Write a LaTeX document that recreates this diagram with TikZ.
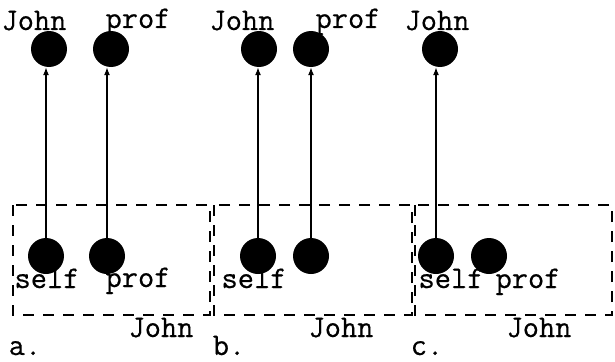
\documentclass[tikz,border=0pt]{standalone}
\usepackage{fontspec}
\newfontfamily\heavytt{Latin Modern Mono}[FakeBold=0.5]
\usetikzlibrary{arrows.meta}
\begin{document}
\begin{tikzpicture}[x=1pt,y=-1pt,
  dot/.style={circle,fill=black,draw=none,minimum size=36pt,inner sep=0pt},
  lbl/.style={font=\fontsize{31.5}{34}\selectfont\heavytt,inner sep=0pt,anchor=base},
  box/.style={draw,line width=1.8pt,dash pattern=on 11pt off 9pt},
  link/.style={line width=1.3pt,-{Latex[length=8pt,width=6pt]}}]
\useasboundingbox (0,0) rectangle (615,361);
% ---------- panel a
\draw[box] (13,205) rectangle (210,315);
\node[dot] (aT1) at (49,49) {};
\node[dot] (aT2) at (111,49) {};
\node[dot] (aB1) at (46,256) {};
\node[dot] (aB2) at (107,256) {};
\node[lbl] (aTl1) at (34,30) {John};
\node[lbl] (aTl2) at (138,28) {prof};
\node[lbl] (aBl1) at (47,288) {self};
\node[lbl] (aBl2) at (138,287) {prof};
\node[lbl] (aJ) at (161,337) {John};
\node[lbl] (aLab) at (25,355) {a.};
\draw[link] (aB1.north) -- (aB1.north |- aT1.south);
\draw[link] (aB2.north) -- (aB2.north |- aT2.south);
% ---------- panel b
\draw[box] (214,205) rectangle (412,315);
\node[dot] (bT1) at (259,49) {};
\node[dot] (bT2) at (311,49) {};
\node[dot] (bB1) at (258,256) {};
\node[dot] (bB2) at (311,256) {};
\node[lbl] (bTl1) at (242,30) {John};
\node[lbl] (bTl2) at (348,28) {prof};
\node[lbl] (bBl1) at (254,288) {self};
\node[lbl] (bJ) at (341,337) {John};
\node[lbl] (bLab) at (229,355) {b.};
\draw[link] (bB1.north) -- (bB1.north |- bT1.south);
\draw[link] (bB2.north) -- (bB2.north |- bT2.south);
% ---------- panel c
\draw[box] (415,205) rectangle (612,315);
\node[dot] (cT1) at (440,49) {};
\node[dot] (cB1) at (436,256) {};
\node[dot] (cB2) at (489,256) {};
\node[lbl] (cTl1) at (437,30) {John};
\node[lbl] (cBl1) at (451,288) {self};
\node[lbl] (cBl2) at (528,288) {prof};
\node[lbl] (cJ) at (539,337) {John};
\node[lbl] (cLab) at (427,355) {c.};
\draw[link] (cB1.north) -- (cB1.north |- cT1.south);
\end{tikzpicture}
\end{document}
